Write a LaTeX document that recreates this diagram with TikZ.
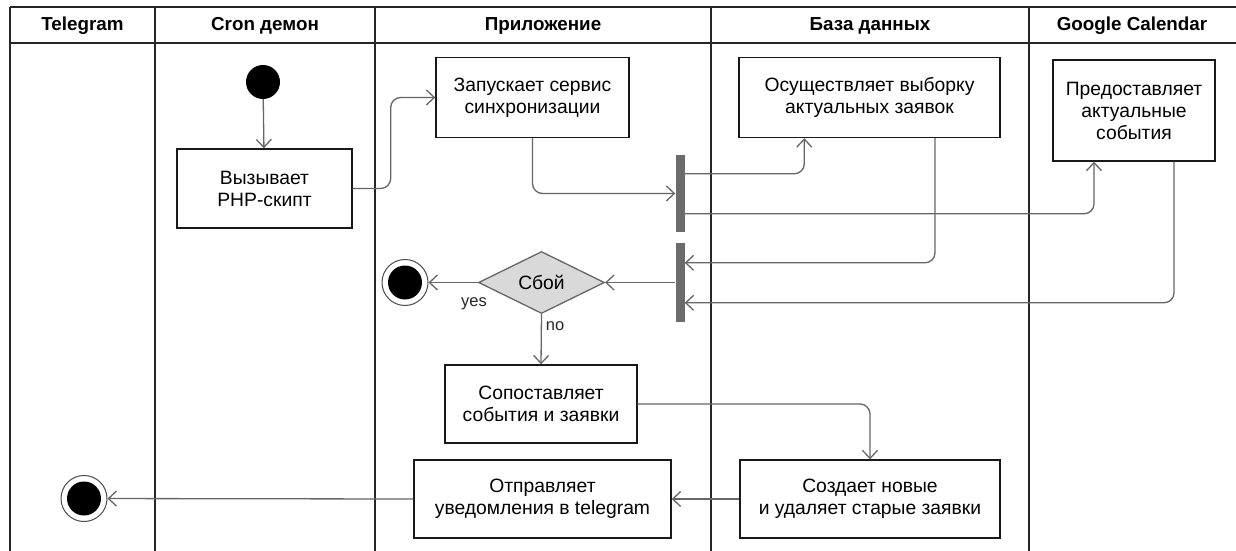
\documentclass[tikz,border=0pt]{standalone}
\usepackage{fontspec}
\setmainfont{Liberation Sans}
\usetikzlibrary{arrows.meta,shapes.geometric,calc}
\begin{document}
\begin{tikzpicture}[x=1pt,y=-1pt,
  lane/.style={draw=black!85, line width=1.5pt},
  box/.style={draw=black!90, line width=1.4pt, fill=white, align=center,
    font=\fontsize{19.3}{22}\selectfont, inner sep=0pt},
  hdr/.style={font=\fontsize{18.8}{21}\selectfont\bfseries, inner sep=0pt},
  lbl/.style={font=\fontsize{16.5}{18}\selectfont, inner sep=0pt, text=black!85},
  conn/.style={draw=black!60, line width=1.3pt, rounded corners=10pt,
    -{Straight Barb[length=8pt,width=15pt,line width=1.3pt]}},
  bar/.style={fill=black!58, draw=none, minimum width=9pt, inner sep=0pt},
  initst/.style={circle, fill=black, minimum size=34pt, inner sep=0pt},
  finalst/.style={circle, draw=black!70, line width=1pt, minimum size=46pt, inner sep=0pt,
    path picture={\fill[black] (path picture bounding box.center) circle (17pt);}},
  decision/.style={diamond, draw=black!60, fill=black!15, line width=1.3pt,
    minimum width=126pt, minimum height=62pt, inner sep=0pt,
    font=\fontsize{19.3}{22}\selectfont}
]
\useasboundingbox[fill=white] (0,0) rectangle (1236,551);

% swimlanes
\draw[lane] (10,7) -- (1236,7);
\draw[lane] (10,43) -- (1236,43);
\foreach \xx in {10,155,375,711,1029}
  \draw[lane] (\xx,7) -- (\xx,551);

\node[hdr] (h1) at (82.5,26) {Telegram};
\node[hdr] (h2) at (265,26) {Cron демон};
\node[hdr] (h3) at (543,26) {Приложение};
\node[hdr] (h4) at (870,26) {База данных};
\node[hdr] (h5) at (1132,26) {Google Calendar};

% nodes
\node[initst] (init) at (263,82) {};
\node[box, minimum width=175pt, minimum height=79pt] (php) at (264.5,188.5) {Вызывает\\PHP-скипт};
\node[box, minimum width=193pt, minimum height=80pt] (sync) at (532.5,97.5) {Запускает сервис\\синхронизации};
\node[box, minimum width=261pt, minimum height=80pt] (sel) at (869.5,97.5) {Осуществляет выборку\\актуальных заявок};
\node[box, minimum width=162pt, minimum height=101pt] (gc) at (1134,110.5) {Предоставляет\\актуальные\\события};
\node[bar, minimum height=77pt] (bar1) at (680,193.5) {};
\node[bar, minimum height=79pt] (bar2) at (680,282.5) {};
\node[decision] (dia) at (541.5,282.5) {Сбой};
\node[finalst] (f1) at (405,282.5) {};
\node[box, minimum width=192pt, minimum height=78pt] (match) at (541,404) {Сопоставляет\\события и заявки};
\node[box, minimum width=260pt, minimum height=78pt] (create) at (870,499) {Создает новые\\и удаляет старые заявки};
\node[box, minimum width=257pt, minimum height=78pt] (notify) at (542.5,499) {Отправляет\\уведомления в telegram};
\node[finalst] (f2) at (84,498.5) {};

% connectors
\draw[conn] (init) -- (php);
\draw[conn] (php.east) -- ++(38,0) |- (sync.west);
\draw[conn] (sync.south) |- (bar1.west);
\draw[conn] ([yshift=-19pt]bar1.north east) -| ([xshift=66pt]sel.south west);
\draw[conn] ([yshift=-59pt]bar1.north east) -| ([xshift=-40pt]gc.south);
\draw[conn] ([xshift=65.5pt]sel.south) |- ([yshift=-20pt]bar2.north east);
\draw[conn] ([xshift=40pt]gc.south) |- ([yshift=-60pt]bar2.north east);
\draw[conn] (bar2.west) -- (dia.east);
\draw[conn] (dia.west) -- (f1);
\draw[conn] (dia.south) -- (match.north);
\draw[conn] (match.east) -| (create.north);
\draw[conn] (create.west) -- (notify.east);
\draw[conn] (notify.west) -- (f2);

\node[lbl] (yes) at (474,304) {yes};
\node[lbl] (no) at (555,326) {no};
\end{tikzpicture}
\end{document}
